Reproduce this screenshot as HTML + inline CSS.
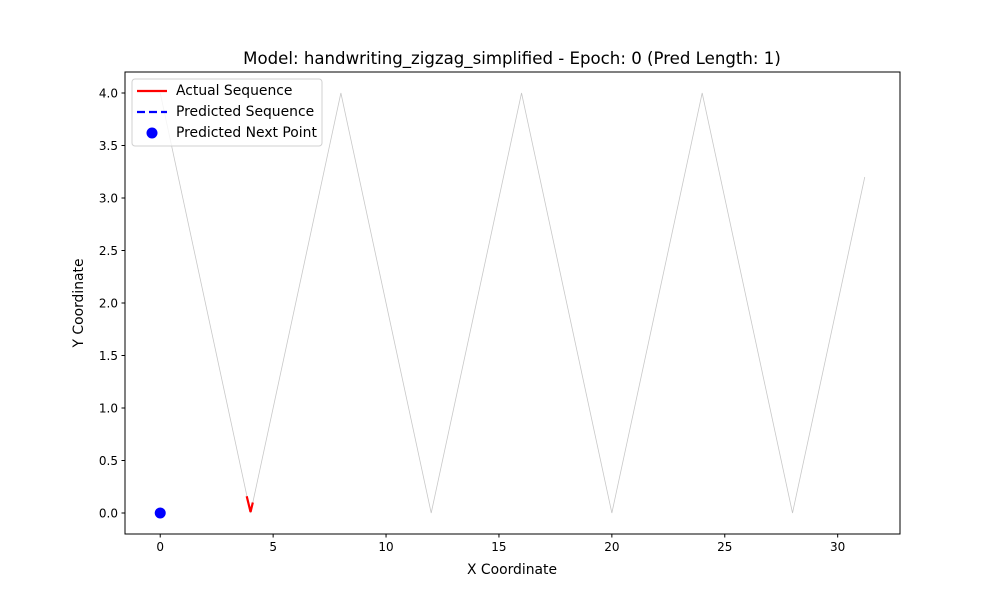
<!DOCTYPE html>
<html><head><meta charset="utf-8"><style>
body{margin:0;background:#fff;}
svg text{font-family:"DejaVu Sans","Liberation Sans",sans-serif;fill:#000;}
</style></head><body>
<svg id="chart" width="1000" height="600" xmlns="http://www.w3.org/2000/svg">
<rect width="1000" height="600" fill="#fff"/>
<g id="plot"></g>
</svg>
<script>
const pathX=[0,4,8,12,16,20,24,28,31.2];
const pathY=[4,0,4,0,4,0,4,0,3.2];
const actualX=[3.83,4.0,4.1];
const actualY=[0.16,0.01,0.1];
const nextX=[0];
const nextY=[0];
const xTicks=[0,5,10,15,20,25,30];
const yTicks=[0,0.5,1,1.5,2,2.5,3,3.5,4];
const yTickLabels=["0.0","0.5","1.0","1.5","2.0","2.5","3.0","3.5","4.0"];

const L=125,R=900,T=72,B=534;
const xmin=-1.56,xmax=32.76,ymin=-0.2,ymax=4.2;
const sx=v=>L+(v-xmin)/(xmax-xmin)*(R-L);
const sy=v=>B-(v-ymin)/(ymax-ymin)*(B-T);
const NS="http://www.w3.org/2000/svg";
const g=document.getElementById('plot');
function mk(tag,attrs,parent){const e=document.createElementNS(NS,tag);for(const k in attrs)e.setAttribute(k,attrs[k]);(parent||g).appendChild(e);return e;}

let e=mk('polyline',{points:pathX.map((x,i)=>sx(x)+','+sy(pathY[i])).join(' '),fill:'none',stroke:'#c8c8c8','stroke-width':0.8});


e=mk('polyline',{points:actualX.map((x,i)=>sx(x)+','+sy(actualY[i])).join(' '),fill:'none',stroke:'#ff0000','stroke-width':2.2});


nextX.forEach((x,i)=>{const c=mk('circle',{cx:sx(x),cy:sy(nextY[i]),r:5.5,fill:'#0000ff'});

});

e=mk('rect',{x:L,y:T,width:R-L,height:B-T,fill:'none',stroke:'#000','stroke-width':1});



xTicks.forEach(v=>{const x=sx(v);
const t=mk('line',{x1:x,x2:x,y1:B,y2:B+3.5,stroke:'#000'});


const l=mk('text',{x:x,y:B+17,'text-anchor':'middle','font-size':12});l.textContent=v;

});
yTicks.forEach((v,i)=>{const y=sy(v);
const t=mk('line',{x1:L-3.5,x2:L,y1:y,y2:y,stroke:'#000'});


const l=mk('text',{x:L-7,y:y+4.5,'text-anchor':'end','font-size':12});l.textContent=yTickLabels[i];

});

e=mk('text',{x:512,y:574,'text-anchor':'middle','font-size':13.9});e.textContent='X Coordinate';


e=mk('text',{x:0,y:0,'text-anchor':'middle','font-size':13.9,transform:'translate(83,303) rotate(-90)'});e.textContent='Y Coordinate';


e=mk('text',{x:512,y:64,'text-anchor':'middle','font-size':16.6});e.textContent='Model: handwriting_zigzag_simplified - Epoch: 0 (Pred Length: 1)';



const lg=mk('g',{});


mk('rect',{x:132,y:79,width:190,height:67,rx:3,fill:'#fff','fill-opacity':0.8,stroke:'#d0d0d0'},lg);
mk('line',{x1:137,x2:167,y1:91,y2:91,stroke:'#ff0000','stroke-width':2.2},lg);
mk('line',{x1:137,x2:167,y1:112,y2:112,stroke:'#0000ff','stroke-width':2.2,'stroke-dasharray':'8,4'},lg);
mk('circle',{cx:152,cy:133,r:5.5,fill:'#0000ff'},lg);
[['Actual Sequence',95],['Predicted Sequence',116],['Predicted Next Point',137]].forEach(([s,y])=>{
const t=mk('text',{x:176,y:y,'font-size':13.9},lg);t.textContent=s;

});
</script>
</body></html>
